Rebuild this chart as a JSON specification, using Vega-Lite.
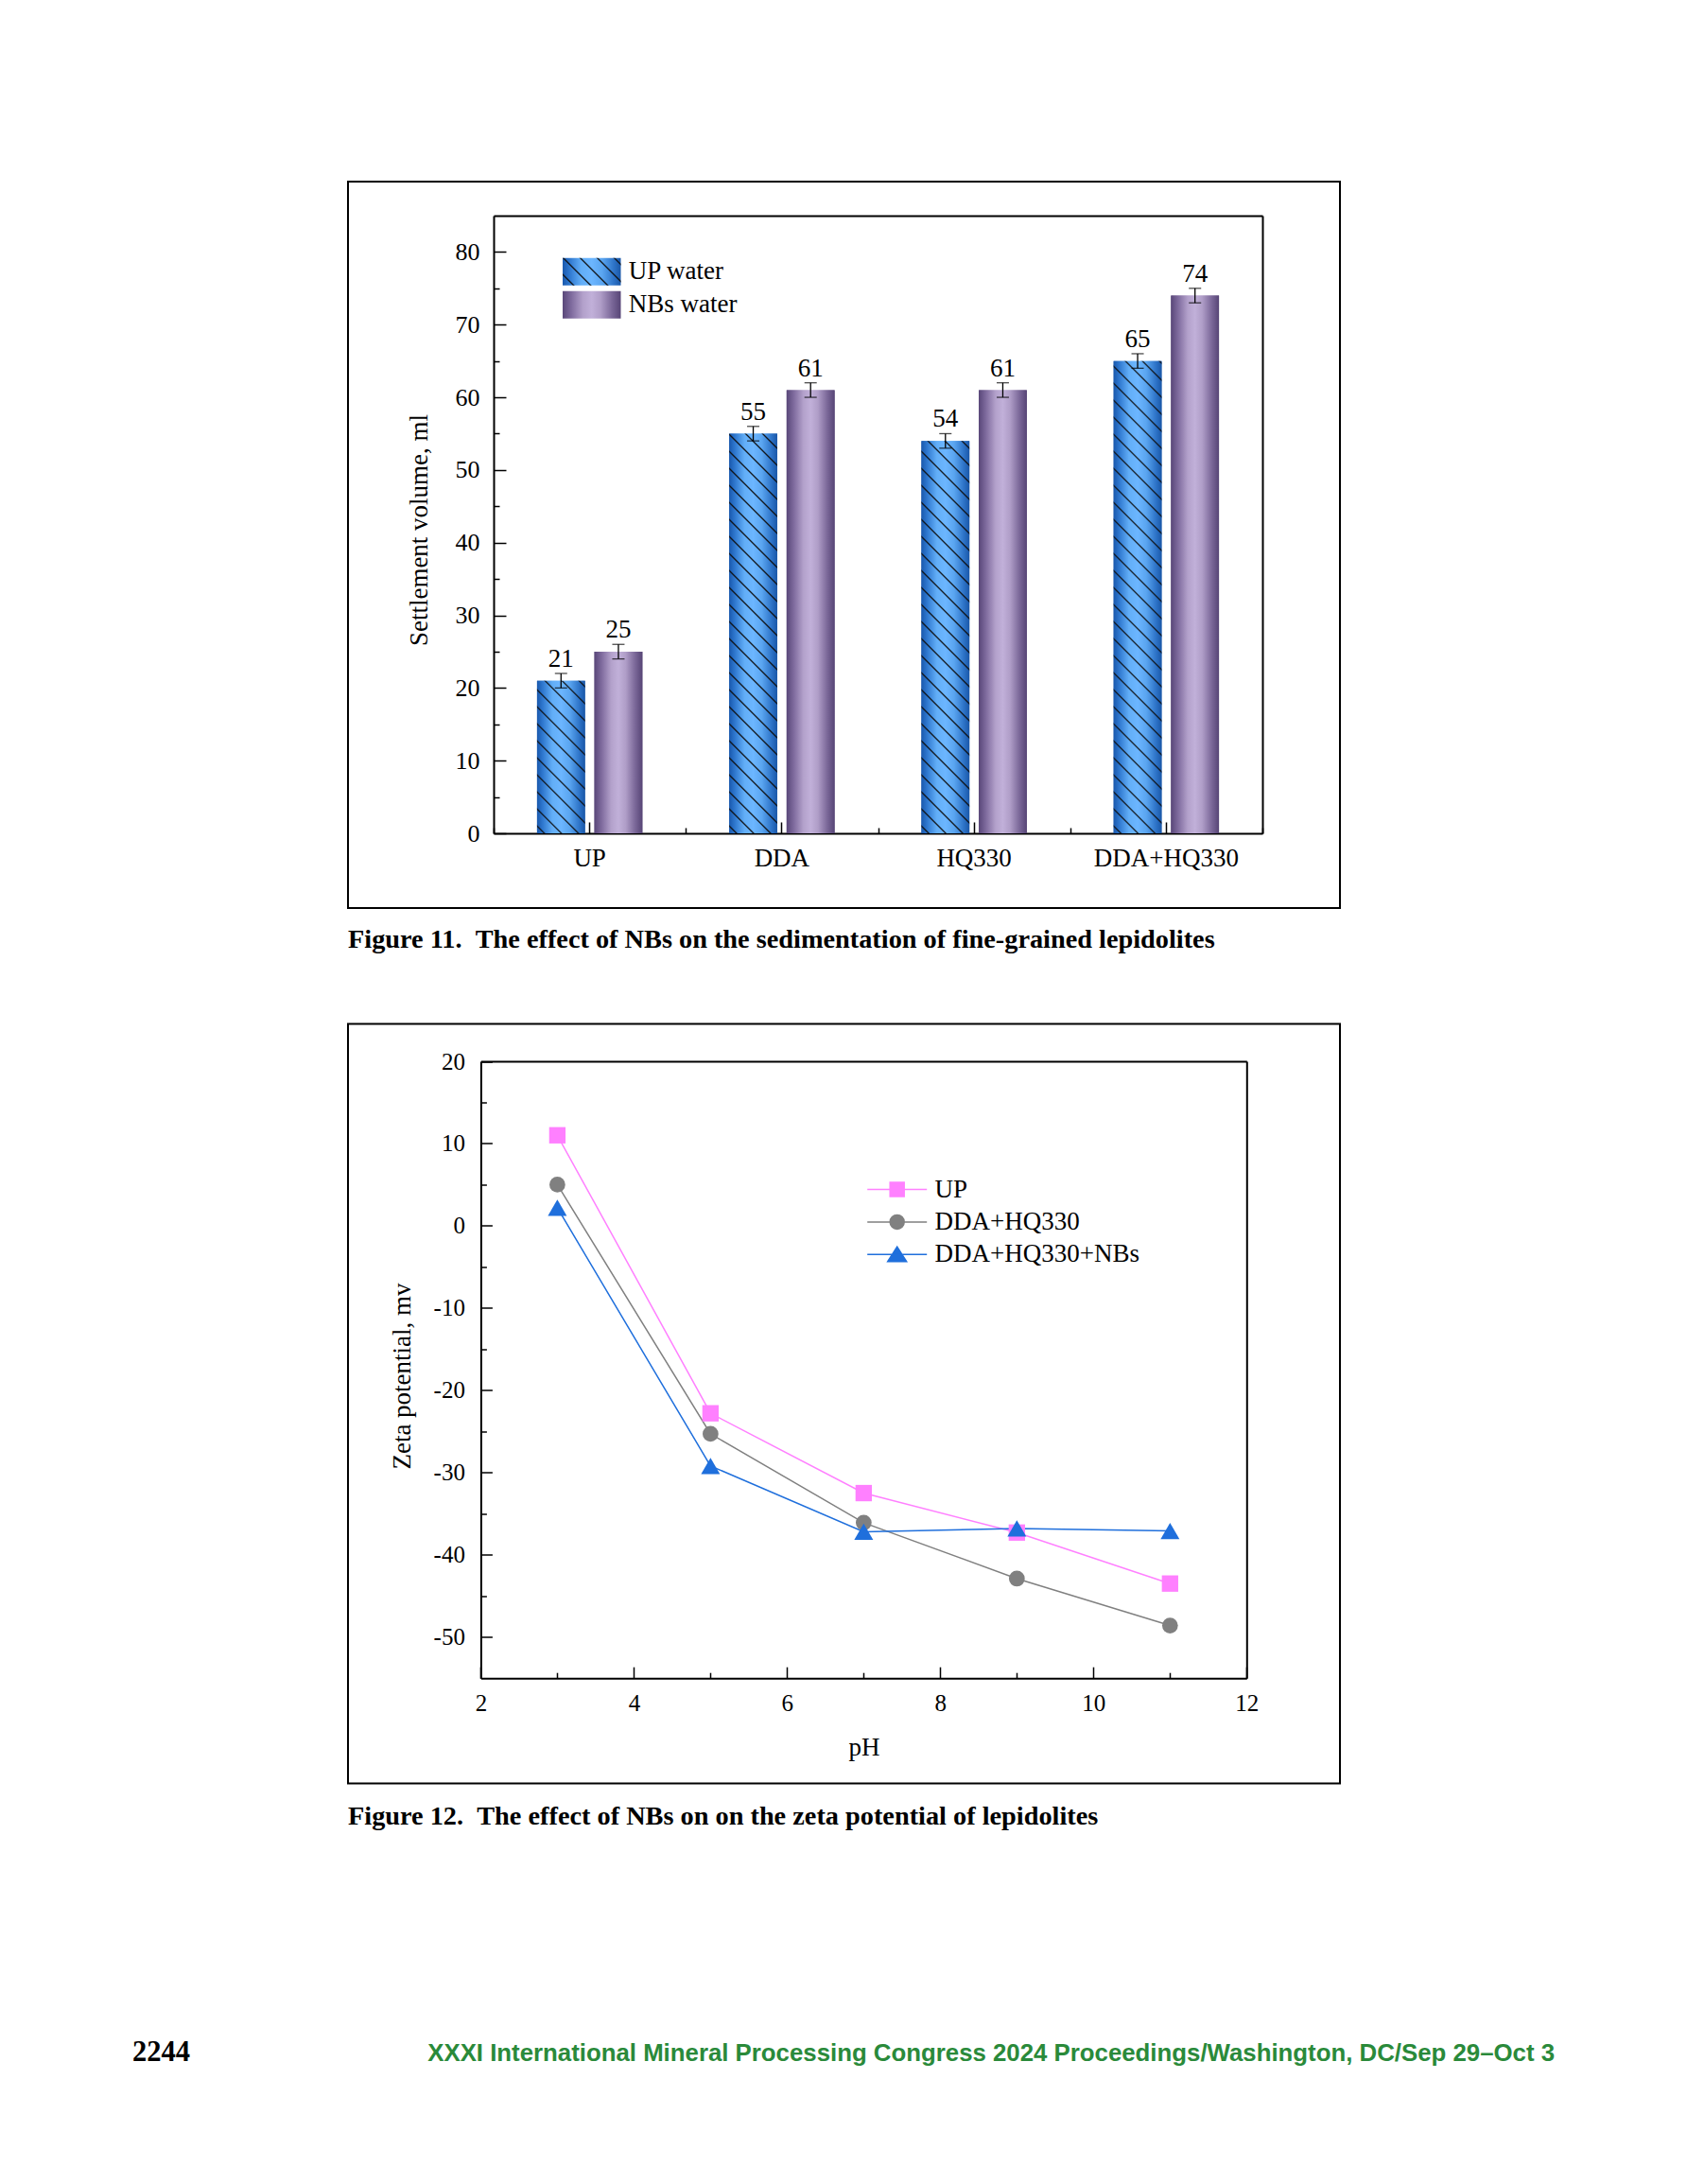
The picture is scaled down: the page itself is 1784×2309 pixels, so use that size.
{
"$schema":"https://vega.github.io/schema/vega-lite/v6.json",
"background":"white",
"padding":{"left":140,"top":191,"right":10,"bottom":10},
"bounds":"flush",
"spacing":122.5,
"resolve":{"scale":{"fill":"independent","stroke":"independent","shape":"independent","size":"independent","color":"independent"},"legend":{"fill":"independent","stroke":"independent","shape":"independent","size":"independent","color":"independent"}},
"config":{
 "view":{"stroke":"black","strokeWidth":2},
 "font":"Liberation Serif",
 "axis":{"grid":false,"domainColor":"black","domainWidth":2,"tickColor":"black","tickWidth":1.5,"labelColor":"black","labelFont":"Liberation Serif","titleFont":"Liberation Serif","titleFontWeight":"normal","titleColor":"black","labelFlush":false,"labelOverlap":false,"labelAngle":0},
 "axisX":{"labelFont":"Liberation Serif"},
 "axisY":{"labelFont":"Liberation Serif"},
 "axisLeft":{"labelFont":"Liberation Serif"},
 "axisBottom":{"labelFont":"Liberation Serif"},
 "axisQuantitative":{"labelFont":"Liberation Serif"},
 "legend":{"labelFont":"Liberation Serif","labelColor":"black","labelLimit":500,"padding":0},
 "title":{"font":"Liberation Serif","color":"black"}
},
"vconcat":[
{
 "width":1049,"height":768,
 "title":{"text":"Figure 11.\u00a0\u00a0The effect of NBs on the sedimentation of fine-grained lepidolites","orient":"bottom","anchor":"start","frame":"group","offset":42,"baseline":"alphabetic","fontSize":28.3,"fontWeight":"bold","font":"Liberation Serif"},
 "data":{"values":[
  {"group":"UP","series":"UP water","value":21,"lo":20,"hi":22},
  {"group":"UP","series":"NBs water","value":25,"lo":24,"hi":26},
  {"group":"DDA","series":"UP water","value":55,"lo":54,"hi":56},
  {"group":"DDA","series":"NBs water","value":61,"lo":60,"hi":62},
  {"group":"HQ330","series":"UP water","value":54,"lo":53,"hi":55},
  {"group":"HQ330","series":"NBs water","value":61,"lo":60,"hi":62},
  {"group":"DDA+HQ330","series":"UP water","value":65,"lo":64,"hi":66},
  {"group":"DDA+HQ330","series":"NBs water","value":74,"lo":73,"hi":75}
 ]},
 "encoding":{
  "x":{"field":"group","type":"nominal","sort":null,"scale":{"domain":["UP","DDA","HQ330","DDA+HQ330"],"range":[154,967],"paddingInner":0,"paddingOuter":0},"axis":null},
  "xOffset":{"field":"series","type":"nominal","sort":null,"scale":{"domain":["UP water","NBs water"],"paddingInner":0.164,"paddingOuter":0.757}},
  "y":{"field":"value","type":"quantitative","scale":{"domain":[0,85],"range":[689,36],"nice":false,"zero":true},"axis":null}
 },
 "resolve":{"axis":{"x":"independent","y":"independent"}},
 "layer":[
  {"mark":{"type":"bar","stroke":null},
   "encoding":{
    "x":{"field":"group","type":"nominal","sort":null,"axis":{"orient":"bottom","offset":-79,"tickSize":-12,"labelPadding":25,"labelFont":"Liberation Serif","labelFontSize":27,"title":null}},
    "y":{"field":"value","type":"quantitative","axis":{"orient":"left","offset":-154,"values":[0,10,20,30,40,50,60,70,80],"tickSize":-13,"labelPadding":28,"labelFont":"Liberation Serif","labelFontSize":26,"title":"Settlement volume, ml","titleFont":"Liberation Serif","titleFontSize":27,"titleX":-78.5,"titleY":368,"titleAngle":-90,"titleAlign":"center","titleBaseline":"middle"}},
    "fill":{"field":"series","type":"nominal","sort":null,"scale":{"domain":["UP water","NBs water"],"range":[
      {"expr":"{gradient: 'linear', x1: 0, y1: 0, x2: 1, y2: 0, stops: [{offset: 0, color: '#1958ad'}, {offset: 0.12, color: '#2f78cf'}, {offset: 0.32, color: '#62aef7'}, {offset: 0.5, color: '#6cb6ff'}, {offset: 0.68, color: '#5aa5f0'}, {offset: 0.88, color: '#2e74c8'}, {offset: 1, color: '#1a57a8'}]}"},
      {"expr":"{gradient: 'linear', x1: 0, y1: 0, x2: 1, y2: 0, stops: [{offset: 0, color: '#594779'}, {offset: 0.15, color: '#7f6b9e'}, {offset: 0.35, color: '#b3a1cb'}, {offset: 0.5, color: '#c1b0d9'}, {offset: 0.65, color: '#b09ec8'}, {offset: 0.85, color: '#7a6798'}, {offset: 1, color: '#574576'}]}"}]},
     "legend":{"orient":"none","legendX":243.25,"legendY":80.8,"title":null,"direction":"vertical","symbolType":"M-2.12,-1H2.12V1H-2.12Z","symbolSize":841,"symbolStrokeWidth":0,"symbolOpacity":1,"labelFont":"Liberation Serif","labelFontSize":27,"labelOffset":24.5,"rowPadding":6}}
   }},
  {"transform":[{"filter":"false"}],
   "mark":{"type":"bar","strokeWidth":0,"fill":{"gradient":"linear","x1":0,"y1":1,"x2":1.2039,"y2":0.4323,"stops":[
    {"offset":0.1105,"color":"transparent"},{"offset":0.1293,"color":"#111"},{"offset":0.1481,"color":"transparent"},
    {"offset":0.3094,"color":"transparent"},{"offset":0.3282,"color":"#111"},{"offset":0.3470,"color":"transparent"},
    {"offset":0.5083,"color":"transparent"},{"offset":0.5271,"color":"#111"},{"offset":0.5459,"color":"transparent"},
    {"offset":0.7072,"color":"transparent"},{"offset":0.7260,"color":"#111"},{"offset":0.7448,"color":"transparent"},
    {"offset":0.9061,"color":"transparent"},{"offset":0.9249,"color":"#111"},{"offset":0.9437,"color":"transparent"}]}},
   "encoding":{
    "stroke":{"field":"series","type":"nominal","scale":{"domain":["UP water"],"range":["transparent"]},
     "legend":{"orient":"none","legendX":243.25,"legendY":80.8,"title":null,"direction":"vertical","symbolType":"M-2.12,-1H2.12V1H-2.12Z","symbolSize":841,"symbolStrokeWidth":0,"symbolOpacity":1,"labelFont":"Liberation Serif","labelFontSize":27,"labelOpacity":0,"labelOffset":24.5,"rowPadding":6}}
   }},
  {"transform":[{"filter":"datum.series === 'NBs water'"}],
   "mark":{"type":"bar","stroke":null,"fill":{"gradient":"linear","x1":0,"y1":0,"x2":1,"y2":0,"stops":[{"offset":0,"color":"#594779"},{"offset":0.15,"color":"#7f6b9e"},{"offset":0.35,"color":"#b3a1cb"},{"offset":0.5,"color":"#c1b0d9"},{"offset":0.65,"color":"#b09ec8"},{"offset":0.85,"color":"#7a6798"},{"offset":1,"color":"#574576"}]}},
   "encoding":{
    "x":{"field":"group","type":"nominal","sort":null,"axis":{"orient":"bottom","offset":-79,"tickBand":"extent","tickSize":-6,"labels":false,"domain":false,"title":null}},
    "y":{"field":"value","type":"quantitative","axis":{"orient":"left","offset":-154,"values":[5,15,25,35,45,55,65,75],"tickSize":-6,"labels":false,"domain":false,"title":null}}
   }},
  {"transform":[{"filter":"datum.series === 'UP water'"}],
   "mark":{"type":"bar","stroke":null,"fill":{"gradient":"linear","x1":0,"y1":0,"x2":1,"y2":0,"stops":[{"offset":0,"color":"#1958ad"},{"offset":0.12,"color":"#2f78cf"},{"offset":0.32,"color":"#62aef7"},{"offset":0.5,"color":"#6cb6ff"},{"offset":0.68,"color":"#5aa5f0"},{"offset":0.88,"color":"#2e74c8"},{"offset":1,"color":"#1a57a8"}]}},
   "encoding":{
    "x":{"field":"group","type":"nominal","sort":null,"axis":{"orient":"top","offset":-36,"ticks":false,"labels":false,"title":null}},
    "y":{"field":"value","type":"quantitative","axis":{"orient":"right","offset":-82,"ticks":false,"labels":false,"title":null}}
   }},
  {"transform":[{"filter":"datum.series === 'UP water' && datum.group === 'UP'"}],
   "mark":{"type":"bar","stroke":null,"fill":{"gradient":"linear","x1":0,"y1":1,"x2":0.376,"y2":-0.196,"stops":[
    {"offset":0.0283,"color":"transparent"},{"offset":0.0363,"color":"#111"},{"offset":0.0443,"color":"transparent"},
    {"offset":0.1132,"color":"transparent"},{"offset":0.1212,"color":"#111"},{"offset":0.1292,"color":"transparent"},
    {"offset":0.1981,"color":"transparent"},{"offset":0.2061,"color":"#111"},{"offset":0.2142,"color":"transparent"},
    {"offset":0.2830,"color":"transparent"},{"offset":0.2910,"color":"#111"},{"offset":0.2991,"color":"transparent"},
    {"offset":0.3679,"color":"transparent"},{"offset":0.3759,"color":"#111"},{"offset":0.3840,"color":"transparent"},
    {"offset":0.4528,"color":"transparent"},{"offset":0.4608,"color":"#111"},{"offset":0.4689,"color":"transparent"},
    {"offset":0.5377,"color":"transparent"},{"offset":0.5458,"color":"#111"},{"offset":0.5538,"color":"transparent"},
    {"offset":0.6226,"color":"transparent"},{"offset":0.6307,"color":"#111"},{"offset":0.6387,"color":"transparent"},
    {"offset":0.7075,"color":"transparent"},{"offset":0.7156,"color":"#111"},{"offset":0.7236,"color":"transparent"},
    {"offset":0.7925,"color":"transparent"},{"offset":0.8005,"color":"#111"},{"offset":0.8085,"color":"transparent"},
    {"offset":0.8774,"color":"transparent"},{"offset":0.8854,"color":"#111"},{"offset":0.8934,"color":"transparent"},
    {"offset":0.9623,"color":"transparent"},{"offset":0.9703,"color":"#111"},{"offset":0.9783,"color":"transparent"}]}}},
  {"transform":[{"filter":"datum.series === 'UP water' && datum.group === 'DDA'"}],
   "mark":{"type":"bar","stroke":null,"fill":{"gradient":"linear","x1":0,"y1":1,"x2":0.1325,"y2":-0.1041,"stops":[
    {"offset":0.01268,"color":"transparent"},{"offset":0.01627,"color":"#111"},{"offset":0.01986,"color":"transparent"},
    {"offset":0.05072,"color":"transparent"},{"offset":0.05431,"color":"#111"},{"offset":0.05790,"color":"transparent"},
    {"offset":0.08876,"color":"transparent"},{"offset":0.09235,"color":"#111"},{"offset":0.09594,"color":"transparent"},
    {"offset":0.12680,"color":"transparent"},{"offset":0.13039,"color":"#111"},{"offset":0.13398,"color":"transparent"},
    {"offset":0.16484,"color":"transparent"},{"offset":0.16843,"color":"#111"},{"offset":0.17202,"color":"transparent"},
    {"offset":0.20288,"color":"transparent"},{"offset":0.20647,"color":"#111"},{"offset":0.21006,"color":"transparent"},
    {"offset":0.24091,"color":"transparent"},{"offset":0.24450,"color":"#111"},{"offset":0.24809,"color":"transparent"},
    {"offset":0.27895,"color":"transparent"},{"offset":0.28254,"color":"#111"},{"offset":0.28613,"color":"transparent"},
    {"offset":0.31699,"color":"transparent"},{"offset":0.32058,"color":"#111"},{"offset":0.32417,"color":"transparent"},
    {"offset":0.35503,"color":"transparent"},{"offset":0.35862,"color":"#111"},{"offset":0.36221,"color":"transparent"},
    {"offset":0.39307,"color":"transparent"},{"offset":0.39666,"color":"#111"},{"offset":0.40025,"color":"transparent"},
    {"offset":0.43111,"color":"transparent"},{"offset":0.43470,"color":"#111"},{"offset":0.43829,"color":"transparent"},
    {"offset":0.46915,"color":"transparent"},{"offset":0.47274,"color":"#111"},{"offset":0.47633,"color":"transparent"},
    {"offset":0.50719,"color":"transparent"},{"offset":0.51078,"color":"#111"},{"offset":0.51437,"color":"transparent"},
    {"offset":0.54523,"color":"transparent"},{"offset":0.54882,"color":"#111"},{"offset":0.55241,"color":"transparent"},
    {"offset":0.58327,"color":"transparent"},{"offset":0.58686,"color":"#111"},{"offset":0.59045,"color":"transparent"},
    {"offset":0.62130,"color":"transparent"},{"offset":0.62489,"color":"#111"},{"offset":0.62848,"color":"transparent"},
    {"offset":0.65934,"color":"transparent"},{"offset":0.66293,"color":"#111"},{"offset":0.66652,"color":"transparent"},
    {"offset":0.69738,"color":"transparent"},{"offset":0.70097,"color":"#111"},{"offset":0.70456,"color":"transparent"},
    {"offset":0.73542,"color":"transparent"},{"offset":0.73901,"color":"#111"},{"offset":0.74260,"color":"transparent"},
    {"offset":0.77346,"color":"transparent"},{"offset":0.77705,"color":"#111"},{"offset":0.78064,"color":"transparent"},
    {"offset":0.81150,"color":"transparent"},{"offset":0.81509,"color":"#111"},{"offset":0.81868,"color":"transparent"},
    {"offset":0.84954,"color":"transparent"},{"offset":0.85313,"color":"#111"},{"offset":0.85672,"color":"transparent"},
    {"offset":0.88758,"color":"transparent"},{"offset":0.89117,"color":"#111"},{"offset":0.89476,"color":"transparent"},
    {"offset":0.92562,"color":"transparent"},{"offset":0.92921,"color":"#111"},{"offset":0.93280,"color":"transparent"},
    {"offset":0.96366,"color":"transparent"},{"offset":0.96725,"color":"#111"},{"offset":0.97084,"color":"transparent"}]}}},
  {"transform":[{"filter":"datum.series === 'UP water' && datum.group === 'HQ330'"}],
   "mark":{"type":"bar","stroke":null,"fill":{"gradient":"linear","x1":0,"y1":1,"x2":0.1352,"y2":-0.1057,"stops":[
    {"offset":0.01289,"color":"transparent"},{"offset":0.01654,"color":"#111"},{"offset":0.02019,"color":"transparent"},
    {"offset":0.05156,"color":"transparent"},{"offset":0.05521,"color":"#111"},{"offset":0.05886,"color":"transparent"},
    {"offset":0.09023,"color":"transparent"},{"offset":0.09388,"color":"#111"},{"offset":0.09753,"color":"transparent"},
    {"offset":0.12889,"color":"transparent"},{"offset":0.13254,"color":"#111"},{"offset":0.13619,"color":"transparent"},
    {"offset":0.16756,"color":"transparent"},{"offset":0.17121,"color":"#111"},{"offset":0.17486,"color":"transparent"},
    {"offset":0.20623,"color":"transparent"},{"offset":0.20988,"color":"#111"},{"offset":0.21353,"color":"transparent"},
    {"offset":0.24490,"color":"transparent"},{"offset":0.24855,"color":"#111"},{"offset":0.25220,"color":"transparent"},
    {"offset":0.28357,"color":"transparent"},{"offset":0.28722,"color":"#111"},{"offset":0.29087,"color":"transparent"},
    {"offset":0.32223,"color":"transparent"},{"offset":0.32588,"color":"#111"},{"offset":0.32953,"color":"transparent"},
    {"offset":0.36090,"color":"transparent"},{"offset":0.36455,"color":"#111"},{"offset":0.36820,"color":"transparent"},
    {"offset":0.39957,"color":"transparent"},{"offset":0.40322,"color":"#111"},{"offset":0.40687,"color":"transparent"},
    {"offset":0.43824,"color":"transparent"},{"offset":0.44189,"color":"#111"},{"offset":0.44554,"color":"transparent"},
    {"offset":0.47690,"color":"transparent"},{"offset":0.48055,"color":"#111"},{"offset":0.48420,"color":"transparent"},
    {"offset":0.51557,"color":"transparent"},{"offset":0.51922,"color":"#111"},{"offset":0.52287,"color":"transparent"},
    {"offset":0.55424,"color":"transparent"},{"offset":0.55789,"color":"#111"},{"offset":0.56154,"color":"transparent"},
    {"offset":0.59291,"color":"transparent"},{"offset":0.59656,"color":"#111"},{"offset":0.60021,"color":"transparent"},
    {"offset":0.63158,"color":"transparent"},{"offset":0.63523,"color":"#111"},{"offset":0.63888,"color":"transparent"},
    {"offset":0.67024,"color":"transparent"},{"offset":0.67389,"color":"#111"},{"offset":0.67754,"color":"transparent"},
    {"offset":0.70891,"color":"transparent"},{"offset":0.71256,"color":"#111"},{"offset":0.71621,"color":"transparent"},
    {"offset":0.74758,"color":"transparent"},{"offset":0.75123,"color":"#111"},{"offset":0.75488,"color":"transparent"},
    {"offset":0.78625,"color":"transparent"},{"offset":0.78990,"color":"#111"},{"offset":0.79355,"color":"transparent"},
    {"offset":0.82492,"color":"transparent"},{"offset":0.82857,"color":"#111"},{"offset":0.83222,"color":"transparent"},
    {"offset":0.86358,"color":"transparent"},{"offset":0.86723,"color":"#111"},{"offset":0.87088,"color":"transparent"},
    {"offset":0.90225,"color":"transparent"},{"offset":0.90590,"color":"#111"},{"offset":0.90955,"color":"transparent"},
    {"offset":0.94092,"color":"transparent"},{"offset":0.94457,"color":"#111"},{"offset":0.94822,"color":"transparent"},
    {"offset":0.97959,"color":"transparent"},{"offset":0.98324,"color":"#111"},{"offset":0.98689,"color":"transparent"}]}}},
  {"transform":[{"filter":"datum.series === 'UP water' && datum.group === 'DDA+HQ330'"}],
   "mark":{"type":"bar","stroke":null,"fill":{"gradient":"linear","x1":0,"y1":1,"x2":0.1107,"y2":-0.0903,"stops":[
    {"offset":0.01091,"color":"transparent"},{"offset":0.01400,"color":"#111"},{"offset":0.01709,"color":"transparent"},
    {"offset":0.04364,"color":"transparent"},{"offset":0.04673,"color":"#111"},{"offset":0.04982,"color":"transparent"},
    {"offset":0.07636,"color":"transparent"},{"offset":0.07945,"color":"#111"},{"offset":0.08254,"color":"transparent"},
    {"offset":0.10909,"color":"transparent"},{"offset":0.11218,"color":"#111"},{"offset":0.11527,"color":"transparent"},
    {"offset":0.14182,"color":"transparent"},{"offset":0.14491,"color":"#111"},{"offset":0.14800,"color":"transparent"},
    {"offset":0.17455,"color":"transparent"},{"offset":0.17764,"color":"#111"},{"offset":0.18073,"color":"transparent"},
    {"offset":0.20727,"color":"transparent"},{"offset":0.21036,"color":"#111"},{"offset":0.21345,"color":"transparent"},
    {"offset":0.24000,"color":"transparent"},{"offset":0.24309,"color":"#111"},{"offset":0.24618,"color":"transparent"},
    {"offset":0.27273,"color":"transparent"},{"offset":0.27582,"color":"#111"},{"offset":0.27891,"color":"transparent"},
    {"offset":0.30545,"color":"transparent"},{"offset":0.30854,"color":"#111"},{"offset":0.31163,"color":"transparent"},
    {"offset":0.33818,"color":"transparent"},{"offset":0.34127,"color":"#111"},{"offset":0.34436,"color":"transparent"},
    {"offset":0.37091,"color":"transparent"},{"offset":0.37400,"color":"#111"},{"offset":0.37709,"color":"transparent"},
    {"offset":0.40364,"color":"transparent"},{"offset":0.40673,"color":"#111"},{"offset":0.40982,"color":"transparent"},
    {"offset":0.43636,"color":"transparent"},{"offset":0.43945,"color":"#111"},{"offset":0.44254,"color":"transparent"},
    {"offset":0.46909,"color":"transparent"},{"offset":0.47218,"color":"#111"},{"offset":0.47527,"color":"transparent"},
    {"offset":0.50182,"color":"transparent"},{"offset":0.50491,"color":"#111"},{"offset":0.50800,"color":"transparent"},
    {"offset":0.53455,"color":"transparent"},{"offset":0.53764,"color":"#111"},{"offset":0.54073,"color":"transparent"},
    {"offset":0.56727,"color":"transparent"},{"offset":0.57036,"color":"#111"},{"offset":0.57345,"color":"transparent"},
    {"offset":0.60000,"color":"transparent"},{"offset":0.60309,"color":"#111"},{"offset":0.60618,"color":"transparent"},
    {"offset":0.63273,"color":"transparent"},{"offset":0.63582,"color":"#111"},{"offset":0.63891,"color":"transparent"},
    {"offset":0.66545,"color":"transparent"},{"offset":0.66854,"color":"#111"},{"offset":0.67163,"color":"transparent"},
    {"offset":0.69818,"color":"transparent"},{"offset":0.70127,"color":"#111"},{"offset":0.70436,"color":"transparent"},
    {"offset":0.73091,"color":"transparent"},{"offset":0.73400,"color":"#111"},{"offset":0.73709,"color":"transparent"},
    {"offset":0.76364,"color":"transparent"},{"offset":0.76673,"color":"#111"},{"offset":0.76982,"color":"transparent"},
    {"offset":0.79636,"color":"transparent"},{"offset":0.79945,"color":"#111"},{"offset":0.80254,"color":"transparent"},
    {"offset":0.82909,"color":"transparent"},{"offset":0.83218,"color":"#111"},{"offset":0.83527,"color":"transparent"},
    {"offset":0.86182,"color":"transparent"},{"offset":0.86491,"color":"#111"},{"offset":0.86800,"color":"transparent"},
    {"offset":0.89455,"color":"transparent"},{"offset":0.89764,"color":"#111"},{"offset":0.90073,"color":"transparent"},
    {"offset":0.92727,"color":"transparent"},{"offset":0.93036,"color":"#111"},{"offset":0.93345,"color":"transparent"},
    {"offset":0.96000,"color":"transparent"},{"offset":0.96309,"color":"#111"},{"offset":0.96618,"color":"transparent"},
    {"offset":0.99273,"color":"transparent"},{"offset":0.99582,"color":"#111"},{"offset":0.99891,"color":"transparent"}]}}},
  {"mark":{"type":"rule","color":"black","strokeWidth":1.3},
   "encoding":{"y":{"field":"lo","type":"quantitative","axis":null},"y2":{"field":"hi"}}},
  {"mark":{"type":"tick","color":"black","thickness":1.3,"size":13},
   "encoding":{"y":{"field":"lo","type":"quantitative","axis":null}}},
  {"mark":{"type":"tick","color":"black","thickness":1.3,"size":13},
   "encoding":{"y":{"field":"hi","type":"quantitative","axis":null}}},
  {"mark":{"type":"text","dy":-7,"baseline":"alphabetic","align":"center","fontSize":27,"font":"Liberation Serif","color":"black"},
   "encoding":{"y":{"field":"hi","type":"quantitative","axis":null},"text":{"field":"value","type":"quantitative"}}}
 ]
},
{
 "width":1049,"height":803,
 "title":{"text":"Figure 12.\u00a0\u00a0The effect of NBs on on the zeta potential of lepidolites","orient":"bottom","anchor":"start","frame":"group","offset":43,"baseline":"alphabetic","fontSize":28.3,"fontWeight":"bold","font":"Liberation Serif"},
 "data":{"values":[
  {"pH":3,"zeta":11,"series":"UP"},
  {"pH":5,"zeta":-22.8,"series":"UP"},
  {"pH":7,"zeta":-32.5,"series":"UP"},
  {"pH":9,"zeta":-37.3,"series":"UP"},
  {"pH":11,"zeta":-43.5,"series":"UP"},
  {"pH":3,"zeta":5,"series":"DDA+HQ330"},
  {"pH":5,"zeta":-25.3,"series":"DDA+HQ330"},
  {"pH":7,"zeta":-36.1,"series":"DDA+HQ330"},
  {"pH":9,"zeta":-42.9,"series":"DDA+HQ330"},
  {"pH":11,"zeta":-48.6,"series":"DDA+HQ330"},
  {"pH":3,"zeta":2.2,"series":"DDA+HQ330+NBs"},
  {"pH":5,"zeta":-29.2,"series":"DDA+HQ330+NBs"},
  {"pH":7,"zeta":-37.2,"series":"DDA+HQ330+NBs"},
  {"pH":9,"zeta":-36.8,"series":"DDA+HQ330+NBs"},
  {"pH":11,"zeta":-37.1,"series":"DDA+HQ330+NBs"}
 ]},
 "resolve":{"axis":{"x":"independent","y":"independent"}},
 "layer":[
  {"mark":{"type":"line","strokeWidth":1.5},
   "encoding":{
    "x":{"field":"pH","type":"quantitative","scale":{"domain":[2,12],"range":[140.4,950.3],"nice":false,"zero":false},"axis":{"orient":"bottom","offset":-111.3,"values":[2,4,6,8,10,12],"tickSize":-12,"labelPadding":26,"labelFont":"Liberation Serif","labelFontSize":25,"title":"pH","titleFont":"Liberation Serif","titleFontSize":27,"titleX":545.6,"titleY":81.5,"titleBaseline":"alphabetic","titleAlign":"center"}},
    "y":{"field":"zeta","type":"quantitative","scale":{"domain":[-55,20],"range":[691.7,39.5],"nice":false,"zero":false},"axis":{"orient":"left","offset":-140.4,"values":[-50,-40,-30,-20,-10,0,10,20],"tickSize":-12,"labelPadding":29,"labelFont":"Liberation Serif","labelFontSize":25,"labelExpr":"'' + datum.value","title":"Zeta potential, mv","titleFont":"Liberation Serif","titleFontSize":27,"titleX":-82.5,"titleY":372,"titleAngle":-90,"titleAlign":"center","titleBaseline":"middle"}},
    "stroke":{"field":"series","type":"nominal","sort":null,"scale":{"domain":["UP","DDA+HQ330","DDA+HQ330+NBs"],"range":["#ff80ff","#808080","#1f6fdc"]},
     "legend":{"orient":"none","legendX":567.2,"legendY":161.6,"title":null,"direction":"vertical","symbolSize":225,"symbolStrokeWidth":1.5,"symbolOpacity":1,"labelFont":"Liberation Serif","labelFontSize":27,"labelOffset":26.3,"rowPadding":6.3}}
   }},
  {"transform":[{"filter":"false"}],
   "mark":{"type":"point","filled":true,"opacity":1},
   "encoding":{
    "x":{"field":"pH","type":"quantitative","axis":{"orient":"bottom","offset":-111.3,"values":[3,5,7,9,11],"tickSize":-6,"labels":false,"domain":false,"title":null}},
    "y":{"field":"zeta","type":"quantitative","axis":{"orient":"left","offset":-140.4,"values":[-45,-35,-25,-15,-5,5,15],"tickSize":-6,"labels":false,"domain":false,"title":null}},
    "stroke":{"field":"series","type":"nominal","sort":null,
     "legend":{"orient":"none","legendX":567.2,"legendY":161.6,"title":null,"direction":"vertical","symbolSize":225,"symbolStrokeWidth":1.5,"symbolOpacity":1,"labelFont":"Liberation Serif","labelFontSize":27,"labelOffset":26.3,"rowPadding":6.3}},
    "fill":{"field":"series","type":"nominal","sort":null,"scale":{"domain":["UP","DDA+HQ330","DDA+HQ330+NBs"],"range":["#ff80ff","#808080","#1f6fdc"]},
     "legend":{"orient":"none","legendX":567.2,"legendY":161.6,"title":null,"direction":"vertical","symbolSize":225,"symbolStrokeWidth":1.5,"symbolOpacity":1,"labelFont":"Liberation Serif","labelFontSize":27,"labelOffset":26.3,"rowPadding":6.3}},
    "shape":{"field":"series","type":"nominal","sort":null,"scale":{"domain":["UP","DDA+HQ330","DDA+HQ330+NBs"],"range":["M-4.2,0H4.2M-1,-1H1V1H-1Z","M-4.2,0H4.2M-1,0A1,1,0,1,0,1,0A1,1,0,1,0,-1,0Z","M-4.2,0H4.2M0,-1.07L1.33,1L-1.33,1Z"]},
     "legend":{"orient":"none","legendX":567.2,"legendY":161.6,"title":null,"direction":"vertical","symbolSize":225,"symbolStrokeWidth":1.5,"symbolOpacity":1,"labelFont":"Liberation Serif","labelFontSize":27,"labelOffset":26.3,"rowPadding":6.3}}
   }},
  {"transform":[{"filter":"datum.series === 'UP'"}],
   "mark":{"type":"point","shape":"square","filled":true,"opacity":1,"color":"#ff80ff","size":300},
   "encoding":{
    "x":{"field":"pH","type":"quantitative","axis":{"orient":"top","offset":-39.5,"ticks":false,"labels":false,"title":null}},
    "y":{"field":"zeta","type":"quantitative","axis":{"orient":"right","offset":-98.7,"ticks":false,"labels":false,"title":null}}
   }},
  {"transform":[{"filter":"datum.series === 'DDA+HQ330'"}],
   "mark":{"type":"point","shape":"circle","filled":true,"opacity":1,"color":"#808080","size":280},
   "encoding":{
    "x":{"field":"pH","type":"quantitative","axis":null},
    "y":{"field":"zeta","type":"quantitative","axis":null}
   }},
  {"transform":[{"filter":"datum.series === 'DDA+HQ330+NBs'"}],
   "mark":{"type":"point","shape":"triangle-up","filled":true,"opacity":1,"color":"#1f6fdc","size":400},
   "encoding":{
    "x":{"field":"pH","type":"quantitative","axis":null},
    "y":{"field":"zeta","type":"quantitative","axis":null}
   }}
 ]
},
{
 "hconcat":[
  {"width":1,"height":150,"view":{"stroke":null},"data":{"values":[{"k":1}]},"mark":{"type":"point","opacity":0},
   "title":{"text":"2244","orient":"bottom","anchor":"start","frame":"group","dx":-228,"offset":21,"baseline":"alphabetic","font":"Liberation Serif","fontWeight":"bold","fontSize":30.5,"color":"black"}},
  {"width":1048,"height":150,"view":{"stroke":null},"data":{"values":[{"k":1}]},"mark":{"type":"point","opacity":0},
   "title":{"text":"XXXI International Mineral Processing Congress 2024 Proceedings/Washington, DC/Sep 29–Oct 3","orient":"bottom","anchor":"end","frame":"group","dx":227,"offset":21,"baseline":"alphabetic","font":"Liberation Sans","fontWeight":"bold","fontSize":25.8,"color":"#2a8a3a"}}
 ],
 "spacing":0,
 "bounds":"flush"
}
]
}
